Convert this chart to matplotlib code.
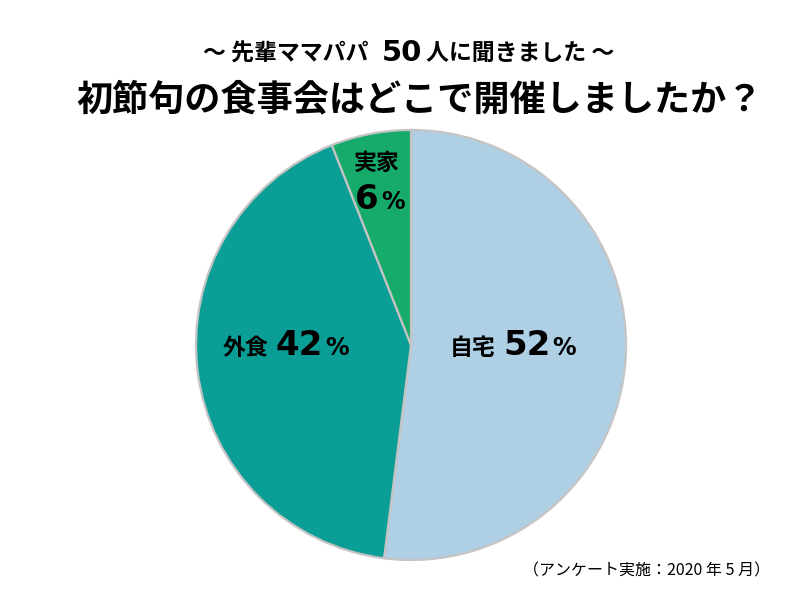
import matplotlib
matplotlib.use("Agg")
import matplotlib.pyplot as plt
from matplotlib.transforms import IdentityTransform

plt.rcParams['font.family'] = ['Noto Sans CJK JP', 'DejaVu Sans']

categories = ['自宅', '外食', '実家']
values = [52, 42, 6]
colors = ['#afcfe4', '#0b9e97', '#17ab6b']

title_pre = '～ 先輩ママパパ '
title_num = '50'
title_post = '人に聞きました ～'
title_main = '初節句の食事会はどこで開催しましたか？'
footnote = '（アンケート実施：2020 年 5 月）'

fig = plt.figure(figsize=(8, 6), dpi=100)
ax = fig.add_axes([0.245, 0.0667, 0.5375, 0.7167])
ax.pie(values, colors=colors, startangle=90, counterclock=False,
       wedgeprops=dict(edgecolor='#c4c4c4', linewidth=1.6), radius=1.0)
ax.set_xlim(-1.0, 1.0)
ax.set_ylim(-1.0, 1.0)
ax.set_aspect('equal')
ax.axis('off')

renderer = fig.canvas.get_renderer()
ident = IdentityTransform()
NUMFONT = ['DejaVu Sans']
JPFONT = ['Noto Sans CJK JP', 'DejaVu Sans']


def rich(x_px, y_px, pieces, ha='center'):
    """pieces: list of (text, fontsize, weight, gap_px_after, family). y_px from top (baseline)."""
    y = 600 - y_px
    widths = []
    for txt, fs, wt, gap, fam in pieces:
        t = fig.text(0, 0, txt, fontsize=fs, fontweight=wt, family=fam, transform=ident)
        bb = t.get_window_extent(renderer)
        widths.append(bb.width)
        t.remove()
    total = sum(widths) + sum(p[3] for p in pieces[:-1])
    if ha == 'center':
        x = x_px - total / 2
    elif ha == 'right':
        x = x_px - total
    else:
        x = x_px
    for (txt, fs, wt, gap, fam), w in zip(pieces, widths):
        fig.text(x, y, txt, fontsize=fs, fontweight=wt, family=fam, transform=ident,
                 va='baseline', ha='left', color='black')
        x += w + gap


# Titles
rich(409, 61, [(title_pre, 16.5, 'bold', 8, JPFONT), (title_num, 21, 'bold', 4, NUMFONT),
               (title_post, 16.5, 'bold', 0, JPFONT)])
rich(420, 110, [(title_main, 26, 'bold', 0, JPFONT)])

# Slice labels
rich(513, 355, [(categories[0], 16.5, 'bold', 7, JPFONT), (f'{values[0]}', 24.5, 'bold', 2, NUMFONT),
                ('%', 17, 'bold', 0, NUMFONT)])
rich(286, 355, [(categories[1], 16.5, 'bold', 7, JPFONT), (f'{values[1]}', 24.5, 'bold', 2, NUMFONT),
                ('%', 17, 'bold', 0, NUMFONT)])
rich(377, 170, [(categories[2], 16.5, 'bold', 0, JPFONT)])
rich(380, 209, [(f'{values[2]}', 24.5, 'bold', 2, NUMFONT), ('%', 17, 'bold', 0, NUMFONT)])

# Footnote
rich(770, 575, [(footnote, 11.5, 'normal', 0, JPFONT)], ha='right')

fig.savefig('out.png', dpi=100)
